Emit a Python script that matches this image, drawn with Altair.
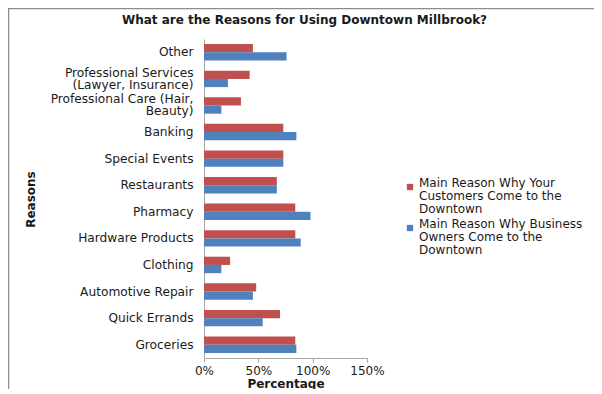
import altair as alt
import pandas as pd

categories = ["Other", "Professional Services|(Lawyer, Insurance)", "Professional Care (Hair,|Beauty)",
              "Banking", "Special Events", "Restaurants", "Pharmacy", "Hardware Products",
              "Clothing", "Automotive Repair", "Quick Errands", "Groceries"]
customers = [45, 42, 34, 73, 73, 67, 84, 84, 24, 48, 70, 84]
owners = [76, 22, 16, 85, 73, 67, 98, 89, 16, 45, 54, 85]
series_names = ["Main Reason Why Your|Customers Come to the|Downtown",
                "Main Reason Why Business|Owners Come to the|Downtown"]
colors = ["#C0504D", "#4F81BD"]
tick_values = [0, 50, 100, 150]

rows = []
for c, a, b in zip(categories, customers, owners):
    rows.append({"reason": c, "series": series_names[0], "pct": a})
    rows.append({"reason": c, "series": series_names[1], "pct": b})
df = pd.DataFrame(rows)

FONT = "DejaVu Sans"
TXT = "#1a1a1a"
AX = "#A6A6A6"

bars = alt.Chart(df).mark_bar().encode(
    x=alt.X("pct:Q", scale=alt.Scale(domain=[0, 150], nice=False),
            axis=alt.Axis(values=tick_values, labelExpr="datum.value + '%'", title="Percentage",
                          grid=False, domainColor=AX, tickColor=AX, tickSize=4, labelFlush=False,
                          labelFont=FONT, labelFontSize=12, labelColor=TXT, labelPadding=3,
                          titleFont=FONT, titleFontSize=12, titleFontWeight="bold", titleColor=TXT,
                          titleY=25, titleBaseline="middle")),
    y=alt.Y("reason:N", sort=categories,
            scale=alt.Scale(paddingInner=0.38, paddingOuter=0.19),
            axis=alt.Axis(title="Reasons", labelExpr="split(datum.label, '|')", ticks=False,
                          labelPadding=11, domainColor=AX, labelFont=FONT, labelFontSize=12.2,
                          labelColor=TXT, labelLimit=0, labelLineHeight=12,
                          labelBaseline=alt.condition("indexof(datum.value, '|') >= 0",
                                                      alt.value("line-bottom"), alt.value("middle")),
                          titleFont=FONT, titleFontSize=12, titleFontWeight="bold", titleColor=TXT,
                          titleX=-174, titleY=160, titleAlign="center", titleBaseline="middle")),
    yOffset=alt.YOffset("series:N", sort=series_names),
    color=alt.Color("series:N", sort=series_names,
                    scale=alt.Scale(domain=series_names, range=colors),
                    legend=alt.Legend(title=None, orient="none", legendX=200, legendY=142,
                                      labelExpr="split(datum.label, '|')", labelFont=FONT,
                                      labelFontSize=12, labelColor=TXT, labelLimit=0,
                                      symbolType="square", symbolSize=40, symbolStrokeWidth=0,
                                      labelBaseline="alphabetic", rowPadding=3, labelOffset=3)),
)

frame_v = alt.Chart().mark_rule(color="#8c8c8c", strokeWidth=1.5).encode(
    x=alt.value(-195.5), y=alt.value(-31), y2=alt.value(350))
frame_h = alt.Chart().mark_rule(color="#8c8c8c", strokeWidth=1.5).encode(
    x=alt.value(-196), x2=alt.value(390), y=alt.value(-30.5))

chart = alt.layer(bars, frame_v, frame_h).properties(
    width=163, height=319,
    title=alt.TitleParams("What are the Reasons for Using Downtown Millbrook?", font=FONT,
                          fontSize=12, fontWeight="bold", color=TXT, anchor="middle",
                          frame="group", dx=19, offset=-25, baseline="middle"),
    autosize=alt.AutoSizeParams(type="none"),
    padding={"left": 196, "top": 31, "right": 227, "bottom": 31},
    background="white",
).configure(style={"guide-label": {"lineHeight": 13}}, view=alt.ViewConfig(stroke=None))

chart.save("out.html", embed_options={"renderer": "svg", "actions": False})
